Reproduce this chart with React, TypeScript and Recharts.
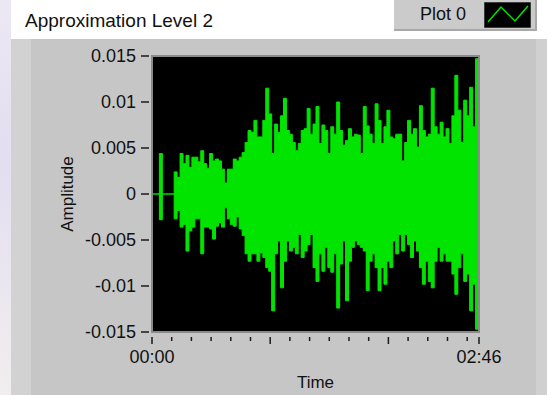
import { ComposedChart, Area, XAxis, YAxis, CartesianGrid, ReferenceArea } from 'recharts';

// Signal envelope, one column per 1.5 s, in units of 0.001
const upperMilli = [
  0, 0, 0, 4.4, 0, 0, 0, 0,
  2.4, 1.8, 4.4, 3.3, 4.2, 2.9, 4.0, 4.0,
  3.5, 4.7, 3.3, 2.8, 4.4, 3.6, 3.8, 3.6,
  2.7, 1.2, 2.7, 2.7, 3.8, 3.6, 4.0, 4.5,
  5.6, 6.9, 6.7, 8.0, 6.2, 6.2, 8.0, 11.5,
  8.7, 4.4, 7.6, 6.7, 8.5, 10.4, 6.9, 6.5,
  5.6, 4.7, 5.5, 6.9, 7.1, 9.3, 6.5, 7.6,
  9.5, 5.5, 7.5, 6.9, 4.4, 7.3, 6.5, 10.0,
  6.9, 5.3, 5.8, 7.1, 6.2, 6.5, 6.4, 4.4,
  9.5, 7.4, 6.5, 5.5, 9.8, 8.0, 5.5, 7.3,
  9.1, 6.2, 6.0, 6.5, 6.5, 3.6, 5.6, 8.0,
  6.5, 7.1, 5.1, 9.6, 6.9, 6.2, 6.5, 11.5,
  7.3, 6.5, 7.8, 6.2, 7.1, 5.5, 8.5, 12.9,
  9.1, 5.6, 10.2, 8.5, 11.6, 7.3, 14.7, 8.0,
];

const lowerMilli = [
  0, 0, 0, -2.8, 0, 0, 0, 0,
  -2.7, -1.8, -3.6, -3.3, -6.2, -4.0, -3.6, -2.7,
  -2.7, -6.5, -3.6, -3.6, -3.8, -4.9, -3.5, -3.1,
  -3.6, -1.5, -2.7, -3.3, -3.5, -2.5, -3.8, -4.5,
  -6.5, -7.3, -6.5, -6.5, -7.3, -6.4, -6.9, -8.0,
  -8.4, -12.7, -6.5, -5.1, -10.2, -7.3, -5.1, -6.2,
  -5.8, -6.5, -4.4, -6.9, -6.2, -5.5, -4.4, -8.0,
  -9.5, -6.5, -8.4, -5.8, -8.0, -8.5, -6.5, -12.4,
  -7.6, -5.1, -11.6, -7.3, -5.8, -5.1, -5.5, -5.8,
  -6.2, -10.5, -7.3, -6.5, -8.0, -10.5, -8.0, -9.8,
  -7.3, -8.0, -5.1, -6.5, -4.4, -6.2, -4.4, -5.5,
  -6.9, -5.1, -6.2, -8.0, -9.8, -7.3, -9.5, -10.2,
  -7.3, -5.8, -7.3, -6.5, -7.3, -7.3, -8.7, -10.9,
  -8.0, -6.5, -9.5, -8.7, -12.7, -9.8, -14.7, -6.0,
];

const STEP_SECONDS = 1.5;
const END_SECONDS = 166;

const yTicks = [-0.015, -0.01, -0.005, 0, 0.005, 0.01, 0.015];
const xTicks = [0, 10, 20, 30, 40, 50, 60, 70, 80, 90, 100, 110, 120, 130, 140, 150, 160, 166];
const majorXTicks = [0, 60, 120, 166];
const xTickLabels: Record<number, string> = { 0: '00:00', 166: '02:46' };

const data = upperMilli.map((hi, i) => ({
  t: Math.min(i * STEP_SECONDS, END_SECONDS),
  range: [lowerMilli[i] / 1000, hi / 1000],
}));

const FONT = '"Liberation Sans", Arial, sans-serif';
const GREEN = '#00e400';

function YTick(props: any) {
  const { x, y, payload } = props;
  return (
    <g>
      <line x1={x - 11} x2={x - 3} y1={y} y2={y} stroke="#1a1a1a" strokeWidth={1.5} />
      <text x={x - 16} y={y} dy={6} textAnchor="end" fontSize={18} fontFamily={FONT} fill="#111">
        {String(payload.value)}
      </text>
    </g>
  );
}

function XTick(props: any) {
  const { x, y, payload } = props;
  const major = majorXTicks.includes(payload.value);
  const label = xTickLabels[payload.value];
  return (
    <g>
      <line x1={x} x2={x} y1={y + 5} y2={y + (major ? 12 : 9)} stroke="#1a1a1a" strokeWidth={1.5} />
      {label && (
        <text x={x} y={y + 31} textAnchor="middle" fontSize={18} fontFamily={FONT} fill="#111">
          {label}
        </text>
      )}
    </g>
  );
}

function YTitle(props: any) {
  const { viewBox } = props;
  const cy = viewBox.y + viewBox.height / 2;
  return (
    <text x={73} y={cy} transform={`rotate(-90, 73, ${cy})`} textAnchor="middle" fontSize={17} fontFamily={FONT} fill="#111">
      Amplitude
    </text>
  );
}

function XTitle(props: any) {
  const { viewBox } = props;
  return (
    <text x={viewBox.x + viewBox.width / 2} y={viewBox.y + 56} textAnchor="middle" fontSize={17} fontFamily={FONT} fill="#111">
      Time
    </text>
  );
}

export default function App() {
  return (
    <div style={{ position: 'absolute', left: 0, top: 0, width: 547, height: 395, background: '#fff', overflow: 'hidden', fontFamily: FONT }}>
      {/* lavender strip on the far left */}
      <div style={{ position: 'absolute', left: 0, top: 0, width: 11, height: 395, background: 'linear-gradient(180deg, #ece8f3, #e3def0 40%, #f1eeee)' }} />
      {/* panel */}
      <div style={{ position: 'absolute', left: 11, top: 39, width: 536, height: 356, background: '#c6c6c6' }} />
      <div style={{ position: 'absolute', left: 11, top: 39, width: 20, height: 356, background: '#d2d2d2' }} />
      <div style={{ position: 'absolute', left: 536, top: 39, width: 11, height: 356, background: '#d0d0d0' }} />

      <div style={{ position: 'absolute', left: 25, top: 10, fontSize: 19, color: '#111', whiteSpace: 'nowrap' }}>
        Approximation Level 2
      </div>

      {/* legend */}
      <div style={{ position: 'absolute', left: 394, top: 0, width: 143, height: 31, background: '#cbcbcb', borderRight: '2px solid #a8a8a8', borderBottom: '2px solid #a8a8a8', boxSizing: 'border-box' }}>
        <span style={{ position: 'absolute', left: 26, top: 4, fontSize: 18, color: '#111' }}>Plot 0</span>
        <svg style={{ position: 'absolute', left: 90, top: 2 }} width={47} height={26}>
          <rect x={0} y={0} width={47} height={26} fill="#000" stroke="#777" />
          <polyline points="4,20 17,5 31,19 44,4" fill="none" stroke={GREEN} strokeWidth={1.5} />
        </svg>
      </div>

      <div style={{ position: 'absolute', left: 0, top: 0 }}>
        <ComposedChart width={547} height={395} data={data} margin={{ top: 56, right: 68, left: 0, bottom: 0 }}>
          <CartesianGrid fill="#000" fillOpacity={1} horizontal={false} vertical={false} />
          <XAxis
            type="number"
            dataKey="t"
            domain={[0, END_SECONDS]}
            ticks={xTicks}
            interval={0}
            height={63}
            axisLine={false}
            tickLine={false}
            tickSize={0}
            tickMargin={0}
            tick={<XTick />}
            label={<XTitle />}
          />
          <YAxis
            type="number"
            domain={[-0.015, 0.015]}
            ticks={yTicks}
            interval={0}
            width={152}
            axisLine={false}
            tickLine={false}
            tickSize={0}
            tickMargin={0}
            tick={<YTick />}
            label={<YTitle />}
          />
          <Area
            type="step"
            dataKey="range"
            stroke={GREEN}
            strokeWidth={1}
            fill={GREEN}
            fillOpacity={1}
            dot={false}
            activeDot={false}
            isAnimationActive={false}
          />
          <ReferenceArea x1={0} x2={END_SECONDS} y1={-0.015} y2={0.015} fill="none" stroke="#8a8a8a" strokeWidth={2} />
        </ComposedChart>
      </div>
    </div>
  );
}
